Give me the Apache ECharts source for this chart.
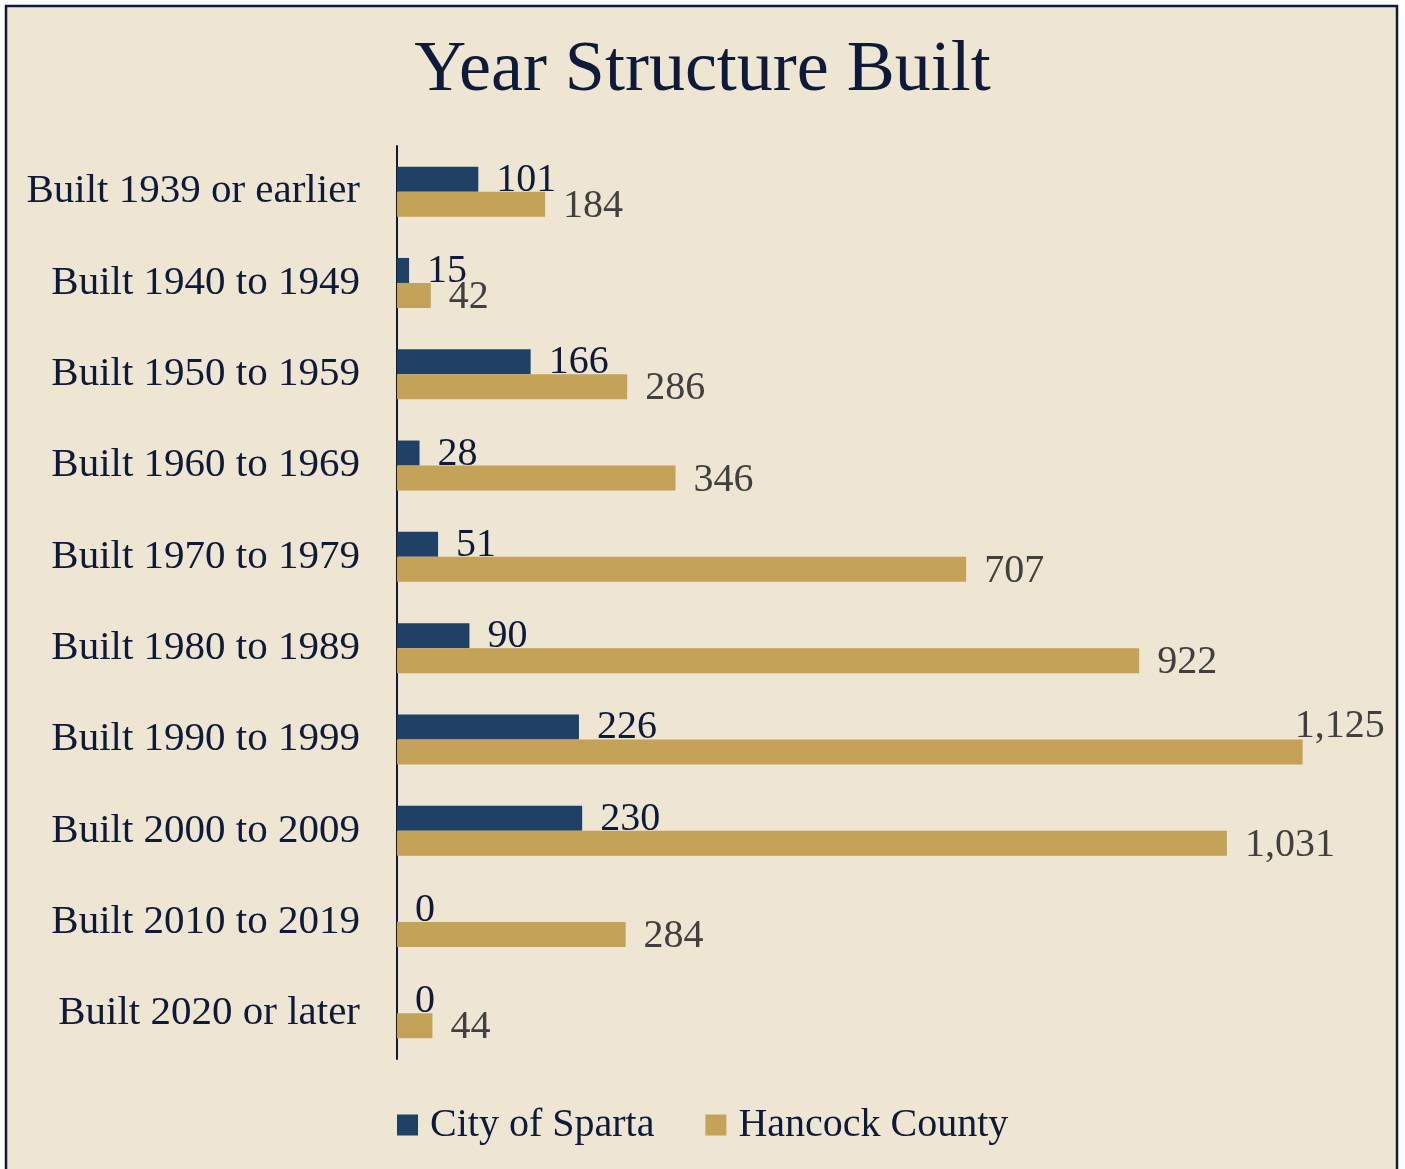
<!DOCTYPE html>
<html>
<head>
<meta charset="utf-8">
<title>Year Structure Built</title>
<script src="https://cdn.jsdelivr.net/npm/echarts@6/dist/echarts.min.js"></script>
<style>
  html, body { margin: 0; padding: 0; background: #ffffff; }
  #chart { width: 1405px; height: 1169px; }
</style>
</head>
<body>
<div id="chart"></div>
<script>
// Housing units by year the structure was built
const categories = [
  'Built 1939 or earlier',
  'Built 1940 to 1949',
  'Built 1950 to 1959',
  'Built 1960 to 1969',
  'Built 1970 to 1979',
  'Built 1980 to 1989',
  'Built 1990 to 1999',
  'Built 2000 to 2009',
  'Built 2010 to 2019',
  'Built 2020 or later'
];
const spartaValues = [101, 15, 166, 28, 51, 90, 226, 230, 0, 0];
const hancockValues = [184, 42, 286, 346, 707, 922, 1125, 1031, 284, 44];
const seriesNames = ['City of Sparta', 'Hancock County'];

const FONT = "'Liberation Serif', 'DejaVu Serif', serif";
const NAVY = '#0E1A3A';
const BLUE = '#1F4166';
const GOLD = '#C4A257';
const BG = '#EEE5D3';

const fmt = p => Number(p.value).toLocaleString('en-US');

// The widest bar's label sits above the bar's end instead of beside it
const hancockMax = Math.max(...hancockValues);
const hancockData = hancockValues.map(v => v === hancockMax
  ? { value: v, label: { offset: [-26, -25] } }
  : v);

const chart = echarts.init(document.getElementById('chart'), null, { renderer: 'canvas' });

chart.setOption({
  backgroundColor: '#ffffff',
  animation: false,
  graphic: [{
    type: 'rect',
    z: -10,
    shape: { x: 6, y: 6, width: 1391, height: 1200 },
    style: { fill: BG, stroke: NAVY, lineWidth: 2.5 }
  }],
  title: {
    text: 'Year Structure Built',
    left: 'center',
    top: 35,
    padding: 0,
    textStyle: { fontFamily: FONT, fontSize: 72, fontWeight: 'normal', color: NAVY }
  },
  legend: {
    data: seriesNames,
    left: 397,
    top: 1105,
    padding: 0,
    itemWidth: 21,
    itemHeight: 21,
    itemGap: 51,
    icon: 'rect',
    textStyle: { fontFamily: FONT, fontSize: 40, color: NAVY, padding: [0, 0, 0, 7] }
  },
  grid: { left: 397, top: 146, height: 913, right: 42, containLabel: false },
  xAxis: {
    type: 'value',
    min: 0,
    max: 1200,
    show: false
  },
  yAxis: {
    type: 'category',
    data: categories,
    inverse: true,
    axisLine: { show: true, lineStyle: { color: NAVY, width: 2 } },
    axisTick: { show: false },
    axisLabel: { fontFamily: FONT, fontSize: 41, color: NAVY, margin: 37 }
  },
  series: [
    {
      name: seriesNames[0],
      type: 'bar',
      data: spartaValues,
      barWidth: 25,
      barGap: '0%',
      itemStyle: { color: BLUE },
      label: {
        show: true, position: 'right', distance: 18, offset: [0, 1],
        fontFamily: FONT, fontSize: 40, color: NAVY, formatter: fmt
      }
    },
    {
      name: seriesNames[1],
      type: 'bar',
      data: hancockData,
      barWidth: 25,
      barGap: '0%',
      itemStyle: { color: GOLD },
      label: {
        show: true, position: 'right', distance: 18, offset: [0, 2],
        fontFamily: FONT, fontSize: 40, color: '#404040', formatter: fmt
      }
    }
  ]
});
</script>
</body>
</html>
